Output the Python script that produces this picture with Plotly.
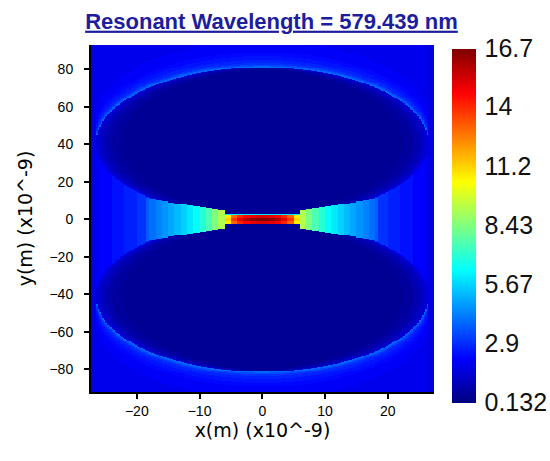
import numpy as np
import plotly.graph_objects as go

# ---------------- text / ticks ----------------
TITLE = "Resonant Wavelength = 579.439 nm"
X_TITLE = "x(m) (x10^-9)"
Y_TITLE = "y(m) (x10^-9)"
X_TICKS = [-20, -10, 0, 10, 20]
Y_TICKS = [-80, -60, -40, -20, 0, 20, 40, 60, 80]
CBAR_TICKS = [0.132, 2.9, 5.67, 8.43, 11.2, 14, 16.7]
CBAR_TEXT = ["0.132", "2.9", "5.67", "8.43", "11.2", "14", "16.7"]
Z_MIN, Z_MAX = 0.132, 16.7

# ---------------- values ----------------
# two elliptical particles (mirror images about y = 0), nm
PARTICLE_CY = 41.0
PARTICLE_A = 26.5
PARTICLE_B = 40.0
SIDE_VAL = 1.7               # beyond the particle width

# inside the particles, by horizontal distance from the surface (nm)
INNER_D_EDGES = [0.7, 1.5, 2.5, 4.0]
INNER_VALS = [1.5, 1.15, 0.85, 0.62, 0.45]

# field above/below the outer surfaces, by distance from the surface (nm)
HALO_D_EDGES = [0.8, 1.6, 2.5, 4.0, 6.0, 8.0, 14.0]
HALO_VALS = [3.9, 3.4, 3.0, 2.75, 2.5, 2.3, 2.1, 1.9]

# field between the particles outside the bright bow-tie, by |x|
GAP_X_EDGES = [20.0, 22.0, 24.0, 26.0]
GAP_VALS = [3.0, 2.7, 2.45, 2.2, 2.0]

# bright bow-tie columns, by |x| (column edges, value, half height)
BOW_X_EDGES = [5.9, 6.9, 7.9, 8.9, 9.9, 10.9, 11.9, 12.9, 13.9, 14.9, 15.9, 16.9, 17.9, 18.4]
BOW_VALS = [9.2, 8.4, 7.6, 7.0, 6.4, 6.0, 5.6, 5.25, 4.9, 4.6, 4.3, 4.0, 3.7]
BOW_HALF = [4.9, 5.4, 6.0, 6.6, 7.1, 7.6, 8.1, 8.7, 9.2, 9.8, 10.3, 10.9, 11.5]

# hot strip in the gap, by |x|
STRIP_X_EDGES = [1.0, 2.0, 3.0, 4.0, 5.0]
STRIP_X_END = 5.9
STRIP_MID = [16.6, 16.4, 16.0, 15.0, 13.8, 11.2]
STRIP_EDGE = [15.2, 15.0, 14.6, 14.0, 13.0, 10.8]
STRIP_MID_HALF = 1.2
STRIP_HALF = 2.3
RIM_TOP = 2.8
RIM_VAL = 6.0

# ---------------- build field on the simulation grid ----------------
gx = np.arange(-27.375, 27.38, 0.25)
gy = np.arange(-92.75, 92.76, 0.5)
X, Y = np.meshgrid(gx, gy)
ax_, ay_ = np.abs(X), np.abs(Y)

s = np.sqrt(np.clip(1 - (ax_ / PARTICLE_A) ** 2, 0, None))
in_x = ax_ < PARTICLE_A
upper = PARTICLE_CY + PARTICLE_B * s
lower = PARTICLE_CY - PARTICLE_B * s

Z = np.full(X.shape, SIDE_VAL)
outer = in_x & (ay_ >= upper)
Z[outer] = np.array(HALO_VALS)[np.digitize(ay_ - upper, HALO_D_EDGES)][outer]
inside = in_x & (ay_ > lower) & (ay_ < upper)
half_w = PARTICLE_A * np.sqrt(np.clip(1 - ((ay_ - PARTICLE_CY) / PARTICLE_B) ** 2, 0, None))
Z[inside] = np.array(INNER_VALS)[np.digitize(half_w - ax_, INNER_D_EDGES)][inside]
gap = in_x & (ay_ <= lower)
Z[gap] = np.array(GAP_VALS)[np.digitize(ax_, GAP_X_EDGES)][gap]

bidx = np.searchsorted(BOW_X_EDGES, ax_, side="right") - 1
bvalid = (bidx >= 0) & (bidx < len(BOW_VALS))
bsafe = np.clip(bidx, 0, len(BOW_VALS) - 1)
bow = bvalid & (ay_ <= np.array(BOW_HALF)[bsafe])
Z[bow] = np.array(BOW_VALS)[bsafe][bow]

sidx = np.digitize(ax_, STRIP_X_EDGES)
in_strip_x = ax_ < STRIP_X_END
strip_edge = in_strip_x & (ay_ <= STRIP_HALF)
Z[strip_edge] = np.array(STRIP_EDGE)[sidx][strip_edge]
strip_mid = in_strip_x & (ay_ <= STRIP_MID_HALF)
Z[strip_mid] = np.array(STRIP_MID)[sidx][strip_mid]
rim = in_strip_x & (Y > STRIP_HALF) & (Y <= RIM_TOP)
Z[rim] = RIM_VAL
Z = np.round(Z, 2)

JET = [[0.0, "rgb(0,0,128)"], [0.125, "rgb(0,0,255)"], [0.375, "rgb(0,255,255)"],
       [0.625, "rgb(255,255,0)"], [0.875, "rgb(255,0,0)"], [1.0, "rgb(128,0,0)"]]

fig = go.Figure(go.Heatmap(
    x=gx, y=gy, z=Z, zmin=Z_MIN, zmax=Z_MAX, colorscale=JET, zsmooth=False,
    hoverinfo="skip",
    colorbar=dict(
        tickmode="array", tickvals=CBAR_TICKS, ticktext=CBAR_TEXT,
        ticks="outside", ticklen=4, tickcolor="rgba(0,0,0,0)", outlinewidth=0,
        thickness=24, len=354, lenmode="pixels",
        x=(452 - 91) / 343, xanchor="left", xref="paper",
        y=(392 - 225.5) / 347, yanchor="middle", yref="paper",
        tickfont=dict(family="Arial", size=25, color="#111"),
        ypad=0, xpad=0,
    ),
))

fig.update_layout(
    width=550, height=461,
    margin=dict(l=91, r=116, t=45, b=69, autoexpand=False),
    paper_bgcolor="white", plot_bgcolor="white",
    title=dict(
        text="<b><u>" + TITLE + "</u></b>",
        x=271.5 / 550, xanchor="center", xref="container",
        y=1 - 21 / 461, yanchor="middle", yref="container",
        font=dict(family="Arial", size=22, color="#1d1d9e"),
    ),
    xaxis=dict(
        range=[-27.3, 27.36], tickvals=X_TICKS, ticks="outside", ticklen=5, tickwidth=2,
        tickcolor="black", showline=True, linecolor="black", linewidth=2, mirror=False,
        showgrid=False, zeroline=False, automargin=False,
        tickfont=dict(family="Arial", size=14, color="black"),
        title=dict(text=X_TITLE, font=dict(family="DejaVu Sans", size=19, color="black"), standoff=6),
    ),
    yaxis=dict(
        range=[-92.1, 93.0], tickvals=Y_TICKS, ticks="outside", ticklen=5, tickwidth=2,
        tickcolor="black", showline=True, linecolor="black", linewidth=2, mirror=False,
        showgrid=False, zeroline=False, ticklabelstandoff=8, automargin=False,
        tickfont=dict(family="Arial", size=14, color="black"),
        title=dict(text=Y_TITLE, font=dict(family="DejaVu Sans", size=19, color="black"), standoff=12),
    ),
)

fig.write_html("out.html")
